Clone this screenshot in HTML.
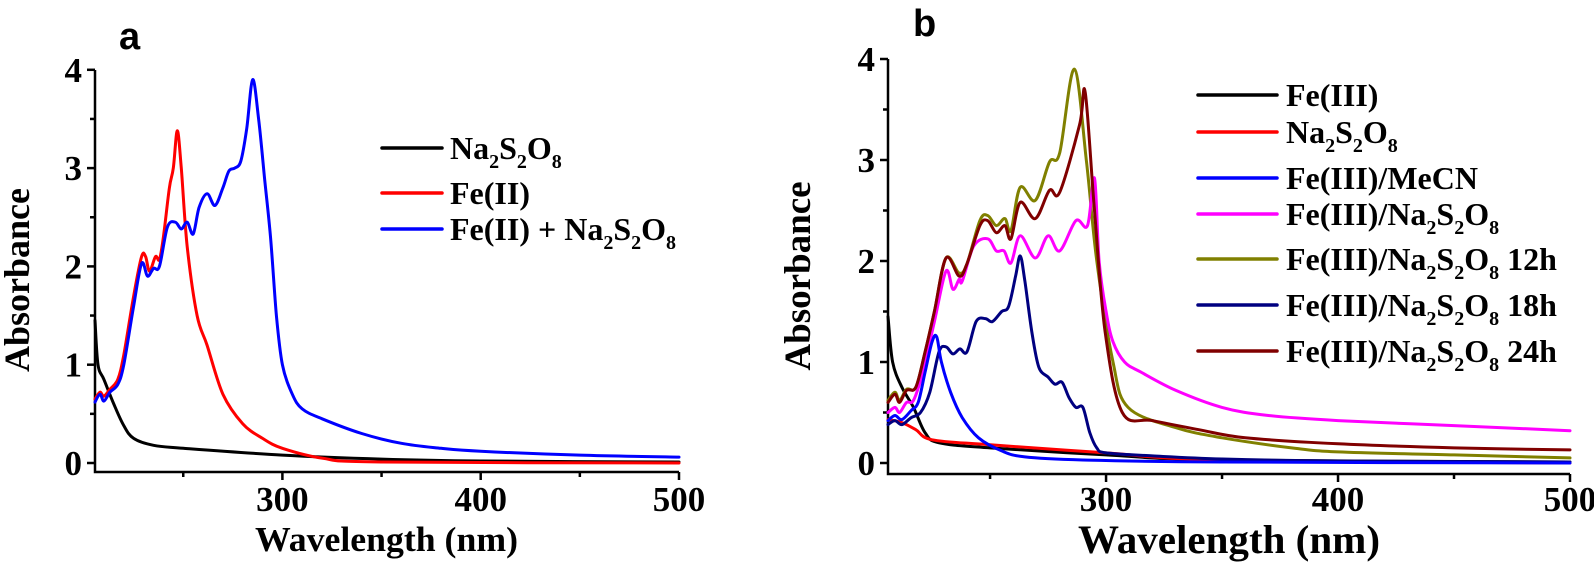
<!DOCTYPE html>
<html><head><meta charset="utf-8"><style>
html,body{margin:0;padding:0;background:#fff;}
svg{display:block;}
text{font-family:"Liberation Serif",serif;font-weight:bold;fill:#000;}
.lab{font-family:"Liberation Sans",sans-serif;font-size:38px;}
.tk{font-size:35px;font-family:"Liberation Serif",serif;}
.lg{font-size:32px;}
</style></head><body>
<svg id="s" width="1594" height="570" viewBox="0 0 1594 570" xmlns="http://www.w3.org/2000/svg">
<text class="lab" x="119" y="49">a</text>
<text class="lab" x="913" y="36">b</text>
<g id="axes" stroke="#000" stroke-width="2.5" fill="none"></g>
<g id="curves" fill="none" stroke-width="3" stroke-linejoin="round" stroke-linecap="round"></g>
<g id="txt"></g>
<text x="255" y="551" font-size="35" textLength="263" lengthAdjust="spacingAndGlyphs">Wavelength (nm)</text>
<text x="1078" y="553" font-size="40" textLength="302" lengthAdjust="spacingAndGlyphs">Wavelength (nm)</text>
<text transform="translate(29,280) rotate(-90)" text-anchor="middle" font-size="36">Absorbance</text>
<text transform="translate(810,276) rotate(-90)" text-anchor="middle" font-size="37">Absorbance</text>
</svg>
<script>
var NS="http://www.w3.org/2000/svg";
function el(p,t,a,txt){var e=document.createElementNS(NS,t);for(var k in a)e.setAttribute(k,a[k]);if(txt!==undefined)e.textContent=txt;document.getElementById(p).appendChild(e);return e;}
var A={x0:95,x1:679,w0:205.5,w1:500,y0:463,k:98.3,yb:472,yt:70};
var B={x0:888,x1:1570,w0:206,w1:500,y0:463,k:101,yb:474,yt:59};
function X(P,w){return P.x0+(w-P.w0)*(P.x1-P.x0)/(P.w1-P.w0);}
function Y(P,a){return P.y0-a*P.k;}
function axes(P){
 el("axes","path",{d:"M"+P.x0+" "+P.yt+"V"+P.yb+"H"+P.x1});
 for(var v=0;v<=4;v+=0.5){var y=Y(P,v);el("axes","line",{x1:P.x0,x2:P.x0-(v%1==0?8:5),y1:y,y2:y});
  if(v%1==0)el("txt","text",{x:P.x0-13,y:y+12,"text-anchor":"end","class":"tk"},String(v));}
 for(var w=250;w<=500;w+=50){var x=X(P,w);el("axes","line",{x1:x,x2:x,y1:P.yb,y2:P.yb+(w%100==0?8:5)});
  if(w%100==0)el("txt","text",{x:x,y:511,"text-anchor":"middle","class":"tk"},String(w));}
}
axes(A);axes(B);
function curve(P,pts,c){
 var p=pts.map(function(q){return [X(P,q[0]),Y(P,q[1])];});
 var d="M"+p[0][0].toFixed(1)+" "+p[0][1].toFixed(1);
 for(var i=0;i<p.length-1;i++){var p0=p[i-1]||p[i],p1=p[i],p2=p[i+1],p3=p[i+2]||p2;
  var c1=[p1[0]+(p2[0]-p0[0])/6,p1[1]+(p2[1]-p0[1])/6],c2=[p2[0]-(p3[0]-p1[0])/6,p2[1]-(p3[1]-p1[1])/6];
  d+="C"+c1[0].toFixed(1)+" "+c1[1].toFixed(1)+" "+c2[0].toFixed(1)+" "+c2[1].toFixed(1)+" "+p2[0].toFixed(1)+" "+p2[1].toFixed(1);}
 el("curves","path",{d:d,stroke:c});
}
curve(A,[[205.5,1.45],[207,1.0],[210,0.85],[215,0.6],[220,0.38],[225,0.25],[235,0.18],[250,0.15],[300,0.08],[350,0.04],[400,0.02],[500,0.01]],"#000");
curve(A,[[205.5,0.65],[208,0.72],[210,0.68],[213,0.75],[217,0.85],[220,1.1],[225,1.7],[229,2.1],[231,2.1],[233,1.95],[236,2.1],[238,2.07],[240,2.3],[243,2.8],[245,3.0],[247,3.38],[249,3.0],[252,2.2],[257,1.5],[262,1.2],[270,0.7],[280,0.4],[290,0.25],[300,0.15],[320,0.05],[350,0.01],[500,0.0]],"#ff0000");
curve(A,[[205.5,0.62],[208,0.7],[210,0.63],[213,0.72],[217,0.8],[220,1.0],[225,1.6],[229,2.03],[232,1.9],[235,1.98],[238,2.0],[242,2.4],[246,2.45],[249,2.38],[252,2.45],[255,2.33],[258,2.6],[262,2.74],[266,2.62],[270,2.8],[273,2.97],[276,3.0],[279,3.07],[282,3.4],[285,3.9],[288,3.5],[291,2.9],[294,2.3],[297,1.5],[300,1.0],[305,0.7],[310,0.55],[320,0.45],[340,0.3],[360,0.2],[380,0.15],[400,0.12],[450,0.08],[500,0.06]],"#0000ff");
curve(B,[[206,1.45],[208,1.0],[212,0.75],[217,0.55],[222,0.3],[228,0.2],[250,0.15],[300,0.08],[350,0.03],[500,0.01]],"#000");
curve(B,[[206,0.43],[212,0.4],[218,0.33],[225,0.23],[250,0.18],[300,0.1],[350,0.03],[500,0.0]],"#ff0000");
curve(B,[[206,0.62],[209,0.7],[211,0.62],[214,0.73],[218,0.75],[222,1.1],[226,1.5],[231,2.03],[236.7,1.88],[240,1.97],[245.6,2.4],[249,2.45],[252.7,2.35],[256.4,2.42],[259,2.3],[263,2.73],[269.5,2.6],[275.6,2.98],[280,3.07],[286.3,3.9],[291.5,3.0],[296,2.0],[303,1.0],[309.5,0.55],[330,0.35],[350,0.25],[380,0.15],[400,0.11],[450,0.08],[500,0.05]],"#808000");
curve(B,[[206,0.5],[209,0.55],[211,0.5],[214,0.6],[217,0.62],[221,0.9],[226,1.4],[231,1.9],[234,1.72],[236.7,1.82],[238,1.8],[243,2.15],[249,2.22],[252.7,2.1],[256,2.1],[259,1.98],[263,2.25],[269.5,2.03],[275,2.25],[280,2.1],[287,2.4],[292,2.35],[295,2.82],[297,2.0],[300,1.5],[303,1.2],[308,1.0],[315,0.9],[330,0.72],[350,0.55],[370,0.47],[400,0.42],[450,0.37],[500,0.32]],"#ff00ff");
curve(B,[[206,0.6],[209,0.68],[211,0.6],[214,0.72],[218,0.75],[222,1.1],[226,1.5],[231,2.03],[236.7,1.85],[240,1.97],[245.6,2.35],[249,2.4],[252.7,2.28],[256.4,2.35],[259,2.22],[263,2.58],[269.5,2.42],[275.6,2.7],[280,2.68],[288.6,3.35],[291,3.67],[295,2.5],[299.6,1.3],[307,0.5],[320,0.42],[340,0.33],[360,0.25],[400,0.19],[450,0.15],[500,0.13]],"#800000");
curve(B,[[206,0.38],[209,0.42],[212,0.38],[216,0.45],[220,0.5],[224,0.7],[228,1.1],[231,1.15],[234,1.08],[237,1.13],[240,1.1],[244,1.4],[248,1.43],[251,1.4],[255,1.5],[258,1.55],[261,1.85],[263,2.05],[265,1.8],[268,1.3],[271,0.95],[275,0.85],[278,0.78],[281,0.8],[284,0.65],[287,0.55],[290,0.55],[293,0.3],[296,0.15],[300,0.1],[320,0.07],[350,0.04],[400,0.02],[500,0.01]],"#000080");
curve(B,[[206,0.42],[209,0.47],[212,0.43],[216,0.52],[219,0.6],[222,0.9],[225,1.2],[227,1.25],[229,1.0],[233,0.7],[238,0.45],[245,0.25],[255,0.12],[265,0.06],[290,0.03],[350,0.01],[500,0.0]],"#0000ff");
function leg(x1,x2,tx,y,c,parts){
 el("curves","line",{x1:x1,x2:x2,y1:y,y2:y,stroke:c,"stroke-width":3.5});
 var t=el("txt","text",{x:tx,y:y+11,"class":"lg"});
 parts.forEach(function(p){var s=document.createElementNS(NS,"tspan");s.textContent=p[0];
  if(p[1]){s.setAttribute("font-size","20");s.setAttribute("dy","9");}else if(p[2]){s.setAttribute("dy","-9");}
  t.appendChild(s);});
}
var NA=[["Na"],["2",1],["S",0,1],["2",1],["O",0,1],["8",1]];
leg(382,442,450,148,"#000",NA);
leg(382,442,450,193,"#ff0000",[["Fe(II)"]]);
leg(382,442,450,229,"#0000ff",[["Fe(II) + Na"],["2",1],["S",0,1],["2",1],["O",0,1],["8",1]]);
function fe(s){var a=[["Fe(III)/Na"],["2",1],["S",0,1],["2",1],["O",0,1],["8",1]];if(s)a.push([" "+s,0,1]);return a;}
leg(1198,1277,1286,95,"#000",[["Fe(III)"]]);
leg(1198,1277,1286,132,"#ff0000",NA);
leg(1198,1277,1286,178,"#0000ff",[["Fe(III)/MeCN"]]);
leg(1198,1277,1286,214,"#ff00ff",fe(""));
leg(1198,1277,1286,259,"#808000",fe("12h"));
leg(1198,1277,1286,305,"#000080",fe("18h"));
leg(1198,1277,1286,351,"#800000",fe("24h"));
</script>
</body></html>
